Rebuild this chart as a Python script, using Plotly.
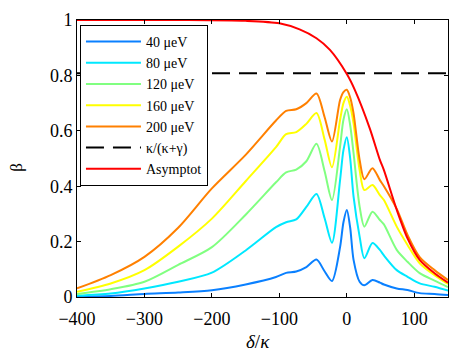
import plotly.graph_objects as go

# detuning axis (delta/kappa) for the simulated curves
delta = [-400, -350, -300, -250, -200, -150, -105, -90, -75, -60, -45, -33, -22,
         -10, -5, 0, 5, 10, 19, 26, 38, 49, 55, 74, 90, 108, 130, 150]

beta_40 = [0.002, 0.004, 0.011, 0.016, 0.024, 0.045, 0.072, 0.087, 0.092, 0.108, 0.135, 0.093, 0.058,
           0.18, 0.27, 0.314, 0.25, 0.134, 0.055, 0.042, 0.061, 0.052, 0.045, 0.031, 0.025, 0.014, 0.011, 0.007]
beta_80 = [0.005, 0.013, 0.031, 0.055, 0.088, 0.168, 0.252, 0.27, 0.28, 0.325, 0.372, 0.285, 0.196,
           0.422, 0.53, 0.577, 0.50, 0.362, 0.218, 0.14, 0.195, 0.17, 0.15, 0.097, 0.073, 0.049, 0.037, 0.023]
beta_120 = [0.011, 0.028, 0.055, 0.116, 0.18, 0.297, 0.414, 0.45, 0.46, 0.49, 0.553, 0.455, 0.35,
            0.543, 0.64, 0.678, 0.62, 0.519, 0.326, 0.254, 0.308, 0.278, 0.262, 0.17, 0.127, 0.086, 0.059, 0.036]
beta_160 = [0.019, 0.049, 0.097, 0.182, 0.283, 0.418, 0.541, 0.588, 0.595, 0.625, 0.664, 0.569, 0.468,
            0.639, 0.70, 0.723, 0.69, 0.627, 0.458, 0.386, 0.404, 0.368, 0.35, 0.254, 0.188, 0.122, 0.079, 0.047]
beta_200 = [0.031, 0.079, 0.145, 0.25, 0.392, 0.513, 0.637, 0.672, 0.678, 0.70, 0.735, 0.65, 0.561,
            0.711, 0.74, 0.748, 0.72, 0.663, 0.495, 0.425, 0.465, 0.422, 0.40, 0.318, 0.224, 0.144, 0.097, 0.061]

# asymptote
delta_asym = [-400, -250, -150, -100, -70, -45, -25, 0, 12, 34, 49, 55, 74, 90, 108, 130, 150]
beta_asym = [1.0, 1.0, 0.997, 0.988, 0.966, 0.934, 0.892, 0.805, 0.747, 0.609, 0.495, 0.458,
             0.315, 0.212, 0.134, 0.086, 0.052]

# kappa/(kappa+gamma) level
delta_ratio = [-400, 150]
beta_ratio = [0.808, 0.808]

series = [
    ("40 μeV", beta_40, "#0a80ff"),
    ("80 μeV", beta_80, "#00e8ff"),
    ("120 μeV", beta_120, "#80ff80"),
    ("160 μeV", beta_160, "#ffff00"),
    ("200 μeV", beta_200, "#ff8000"),
]

serif = "Times New Roman, Liberation Serif, DejaVu Serif, serif"

fig = go.Figure()
for name, vals, col in series:
    fig.add_trace(go.Scatter(x=delta, y=vals, name=name, mode="lines",
                             line=dict(color=col, width=2, shape="spline", smoothing=0.8)))
fig.add_trace(go.Scatter(x=delta_ratio, y=beta_ratio, name="κ/(κ+γ)", mode="lines",
                         line=dict(color="black", width=2, dash="18px,9px")))
fig.add_trace(go.Scatter(x=delta_asym, y=beta_asym, name="Asymptot", mode="lines",
                         line=dict(color="#ff0000", width=2, shape="spline", smoothing=0.8)))

axis_common = dict(showgrid=False, zeroline=False, showline=True, linecolor="black", linewidth=1,
                   mirror="ticks", ticks="inside", ticklen=4, tickcolor="black", automargin=False,
                   tickfont=dict(family=serif, size=18, color="black"))

# page body has an 8px margin, so the figure is shrunk and shifted to compensate
fig.update_layout(
    width=455, height=352,
    margin=dict(l=69, r=15, t=12, b=63),
    plot_bgcolor="white", paper_bgcolor="white",
    font=dict(family=serif, size=15, color="black"),
    xaxis=dict(range=[-400, 150], tickvals=[-400, -300, -200, -100, 0, 100],
               ticklabelstandoff=5, **axis_common),
    yaxis=dict(range=[0, 1], tickvals=[0, 0.2, 0.4, 0.6, 0.8, 1], **axis_common),
    legend=dict(x=0.008, y=0.982, xanchor="left", yanchor="top", bgcolor="white",
                bordercolor="black", borderwidth=1, itemwidth=55,
                font=dict(family=serif, size=14, color="black"), tracegroupgap=0),
    showlegend=True,
    annotations=[
        dict(text="β", xref="paper", yref="paper", x=-0.162, y=0.47, xanchor="center",
             yanchor="middle", showarrow=False, textangle=-90, font=dict(family=serif, size=17)),
        dict(text="<i>δ</i>/<i>κ</i>", xref="paper", yref="paper", x=0.488, y=-0.162,
             xanchor="center", yanchor="middle", showarrow=False, font=dict(family=serif, size=19)),
    ],
)

fig.write_html("out.html")
